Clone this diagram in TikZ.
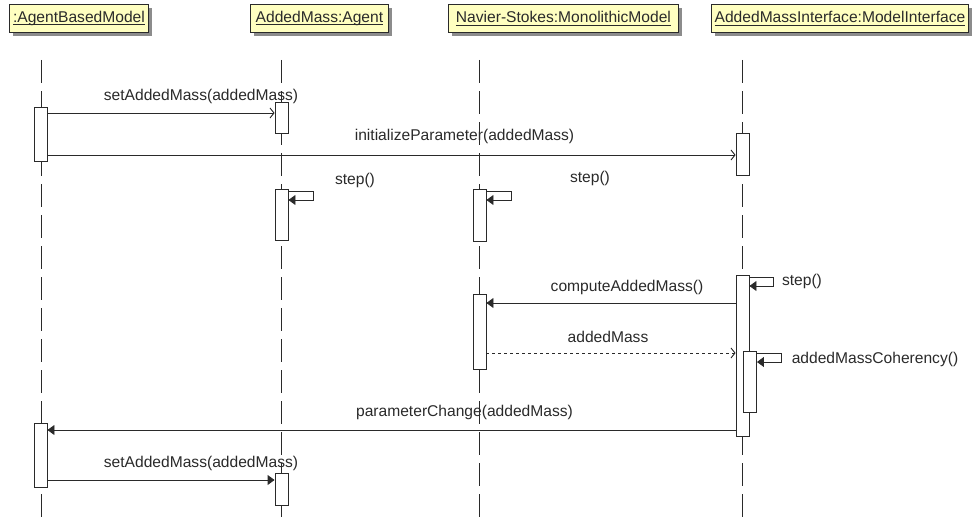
\documentclass[tikz,border=0pt]{standalone}
\usepackage{fontspec}
\setmainfont{Liberation Sans}
\usetikzlibrary{arrows.meta,shadows,calc}
\definecolor{headfill}{HTML}{FFFFC0}
\definecolor{ink}{HTML}{2A2A2A}
\newcommand\hdrtext[1]{\setbox0\hbox{#1}\rlap{\rule[-2.6pt]{\wd0}{0.9pt}}\box0}
\begin{document}
\begin{tikzpicture}[x=1pt,y=-1pt,
  font=\fontsize{15.6}{18}\selectfont,
  head/.style={draw=ink, line width=0.9pt, fill=headfill, minimum height=28pt,
    inner sep=0pt, anchor=north west, text=ink,
    drop shadow={shadow xshift=4pt, shadow yshift=-4pt, fill=black!45, opacity=1}},
  lifeline/.style={draw=ink, line width=0.9pt, dash pattern=on 23pt off 8pt},
  bar/.style={draw=ink, line width=0.9pt, fill=white, minimum width=13pt, inner sep=0pt},
  lbl/.style={text=ink, inner sep=0pt},
  callopen/.style={draw=ink, line width=0.9pt, -{Straight Barb[length=4pt,width=10pt]}},
  callfill/.style={draw=ink, line width=0.9pt, -{Triangle[length=7pt,width=10pt]}},
  retmsg/.style={draw=ink, line width=0.9pt, dashed, -{Straight Barb[length=4pt,width=10pt]}},
]
\useasboundingbox (0,0) rectangle (972,519);
% headers
\node[head, minimum width=139pt] (h1) at (9,4) {\hdrtext{:AgentBasedModel}};
\node[head, minimum width=138pt] (h2) at (250,4) {\hdrtext{AddedMass:Agent}};
\node[head, minimum width=230pt] (h3) at (448,4) {\hdrtext{Navier-Stokes:MonolithicModel}};
\node[head, minimum width=257pt] (h4) at (711,4) {\hdrtext{AddedMassInterface:ModelInterface}};
% lifeline ends
\coordinate (l1t) at (41,60);    \coordinate (l1b) at (41,519);
\coordinate (l2t) at (281.5,60); \coordinate (l2b) at (281.5,519);
\coordinate (l3t) at (479.5,60); \coordinate (l3b) at (479.5,519);
\coordinate (l4t) at (742,60);   \coordinate (l4b) at (742,519);
\draw[lifeline] (l1t) -- (l1b);
\draw[lifeline] (l2t) -- (l2b);
\draw[lifeline] (l3t) -- (l3b);
\draw[lifeline] (l4t) -- (l4b);
% activation bars
\node[bar, minimum height=54pt] (A1) at (40.5,134) {};
\node[bar, minimum height=64pt] (A2) at (40.5,455) {};
\node[bar, minimum height=31pt] (B1) at (281.5,117.5) {};
\node[bar, minimum height=51pt] (B2) at (281.5,214.5) {};
\node[bar, minimum height=32pt] (B3) at (281.5,489) {};
\node[bar, minimum height=52pt] (C1) at (479.5,215) {};
\node[bar, minimum height=75pt] (C2) at (479.5,331.5) {};
\node[bar, minimum height=42pt] (D1) at (742.5,154) {};
\node[bar, minimum height=161pt] (D2) at (742.5,355.5) {};
\node[bar, minimum height=61pt] (D3) at (750,381.5) {};
% y levels
\coordinate (y1) at (0,113);
\coordinate (y2) at (0,155);
\coordinate (y3) at (0,303);
\coordinate (y4) at (0,353);
\coordinate (y5) at (0,430);
\coordinate (y6) at (0,480);
% loop corners
\coordinate (sB) at (313,200);
\coordinate (sC) at (511,200);
\coordinate (sD) at (773,286);
\coordinate (sE) at (781,362);
% messages
\draw[callopen] (A1.east |- y1) -- (B1.west |- y1);
\node[lbl] (t1) at (201,96) {setAddedMass(addedMass)};
\draw[callopen] (A1.east |- y2) -- (D1.west |- y2);
\node[lbl] (t2) at (464.5,136) {initializeParameter(addedMass)};
\draw[callfill] (B2.east |- 0,191) -| (sB) -- (B2.east |- sB);
\node[lbl] (t3) at (355,180) {step()};
\draw[callfill] (C1.east |- 0,191) -| (sC) -- (C1.east |- sC);
\node[lbl] (t4) at (590,178) {step()};
\draw[callfill] (D2.east |- 0,277) -| (sD) -- (D2.east |- sD);
\node[lbl] (t5) at (802,281) {step()};
\draw[callfill] (D2.west |- y3) -- (C2.east |- y3);
\node[lbl] (t6) at (627,287) {computeAddedMass()};
\draw[retmsg] (C2.east |- y4) -- (D2.west |- y4);
\node[lbl] (t7) at (608,337) {addedMass};
\draw[callfill] (D3.east |- 0,353) -| (sE) -- (D3.east |- sE);
\node[lbl] (t8) at (875,359) {addedMassCoherency()};
\draw[callfill] (D2.west |- y5) -- (A2.east |- y5);
\node[lbl] (t9) at (464.5,412) {parameterChange(addedMass)};
\draw[callfill] (A2.east |- y6) -- (B3.west |- y6);
\node[lbl] (t10) at (201,463) {setAddedMass(addedMass)};
\end{tikzpicture}
\end{document}
